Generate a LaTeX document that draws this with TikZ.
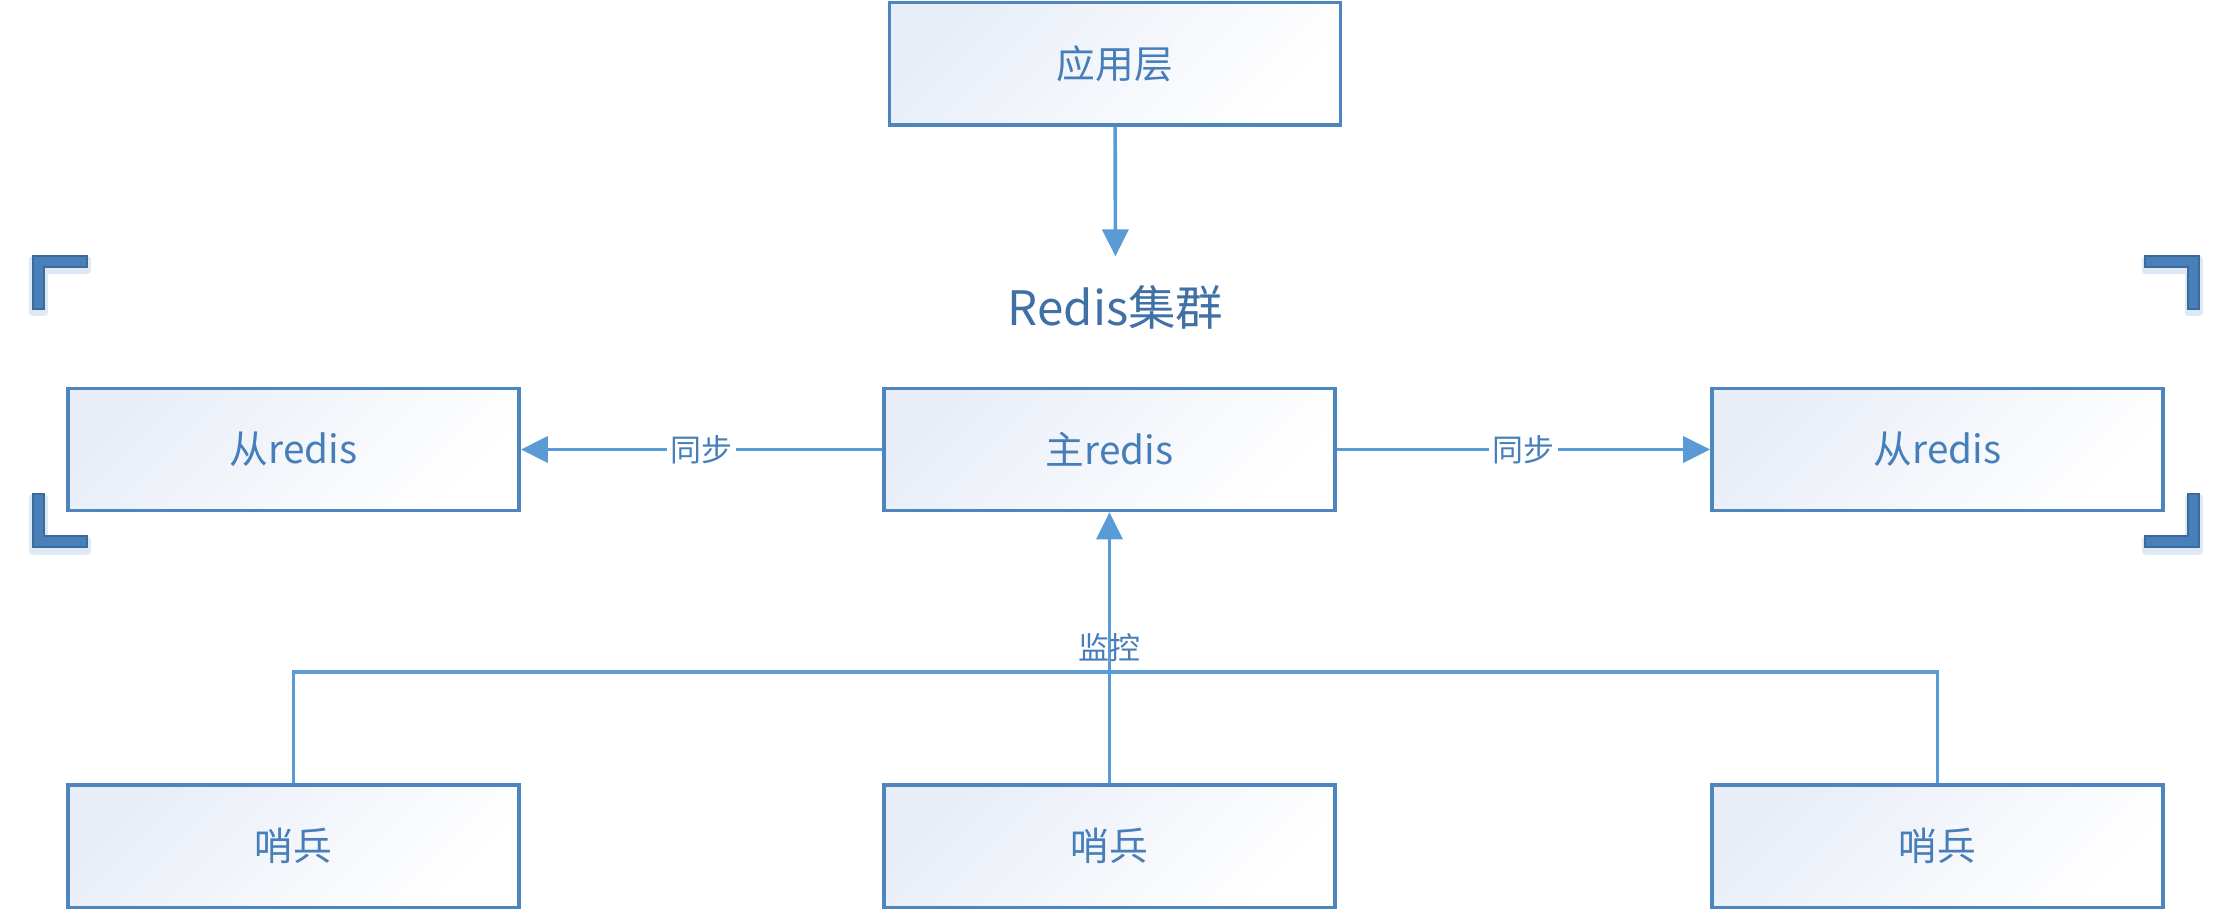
\documentclass[tikz,border=0pt]{standalone}
\usepackage{fontspec}
\setmainfont{Noto Sans CJK SC}
\usepackage{xcolor}
\usepackage{tikz}
\usetikzlibrary{arrows.meta, positioning}

\definecolor{boxline}{HTML}{4D86BE}
\definecolor{boxfill}{HTML}{E8EDF7}
\definecolor{linkblue}{HTML}{5B9BD5}
\definecolor{textblue}{HTML}{467EB9}
\definecolor{titleblue}{HTML}{3F70A6}
\definecolor{bracketfill}{HTML}{4A80BA}
\definecolor{bracketline}{HTML}{3C6A9A}
\definecolor{bracketglow}{HTML}{9DC3E6}

\begin{document}
\begin{tikzpicture}[x=0.01cm, y=-0.01cm,
    box/.style={rectangle, draw=boxline, line width=0.035cm, top color=boxfill, bottom color=white, shading angle=45, minimum width=4.51cm, minimum height=1.22cm, text=textblue, font=\fontsize{11}{13}\selectfont},
    lbl/.style={text=textblue, font=\fontsize{8.8}{10}\selectfont, inner sep=1pt},
    clusterttl/.style={text=titleblue, font=\fontsize{13.5}{15}\selectfont, inner xsep=2pt, inner ysep=0.28cm},
    arrow/.style={-{Triangle[length=0.27cm, width=0.26cm]}, line width=0.036cm, draw=linkblue},
    link/.style={line width=0.036cm, draw=linkblue},
    bracket/.style={fill=bracketfill, draw=bracketline, line width=0.4pt},
    glow/.style={draw=bracketglow, line width=0.07cm, line join=round, opacity=0.35}]

    \useasboundingbox (0,0) rectangle (2240,910);

    \node[box] (master) at (1109.5,449.5) {主redis};
    \node[box, left=3.61cm of master] (slaveL) {从redis};
    \node[box, right=3.73cm of master] (slaveR) {从redis};
    \node[box, above=2.6cm of master, xshift=0.055cm] (app) {应用层};
    \node[box, below=2.71cm of slaveL] (sentA) {哨兵};
    \node[box, below=2.71cm of master] (sentB) {哨兵};
    \node[box, below=2.71cm of slaveR] (sentC) {哨兵};
    \node[clusterttl] (cluster) at (1115.5,307) {Redis集群};

    \foreach \cx/\cy/\fx/\fy in {33/256/1/1, 2199/256/-1/1, 33/547/1/-1, 2199/547/-1/-1} {
      \draw[glow, shift={(\cx,\cy+4)}, xscale=\fx, yscale=\fy] (0,0) -- (54,0) -- (54,11) -- (11,11) -- (11,53) -- (0,53) -- cycle;
      \filldraw[bracket, shift={(\cx,\cy)}, xscale=\fx, yscale=\fy] (0,0) -- (54,0) -- (54,11) -- (11,11) -- (11,53) -- (0,53) -- cycle;
    }

    \draw[arrow] (app) -- (cluster);
    \draw[arrow] (master) -- node[lbl, fill=white] {同步} (slaveL);
    \draw[arrow] (master) -- node[lbl, fill=white] {同步} (slaveR);
    \draw[arrow] (sentB) -- coordinate[pos=0.41] (hub) node[lbl, midway] {监控} (master);
    \draw[link] (sentA) |- (hub) -| (sentC);
\end{tikzpicture}
\end{document}
